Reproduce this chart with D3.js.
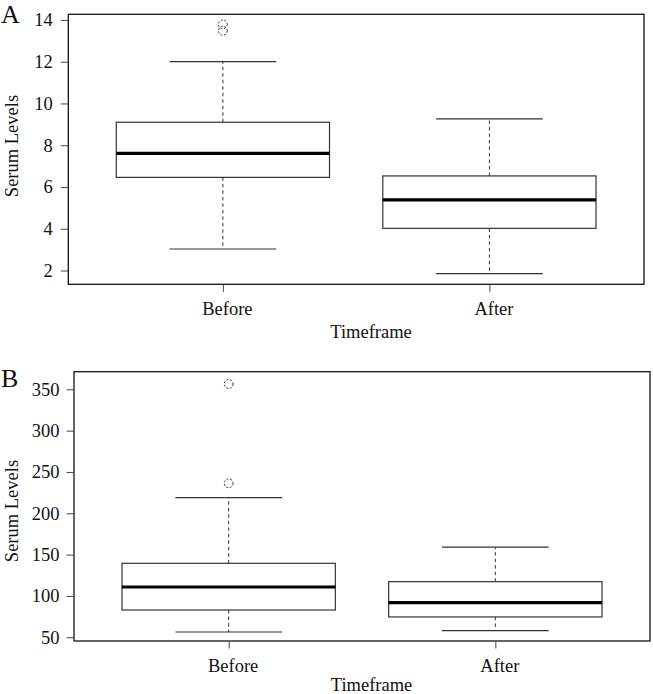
<!DOCTYPE html>
<html><head><meta charset="utf-8">
<script src="https://cdn.jsdelivr.net/npm/d3@7"></script>
<style>body{margin:0;background:#fff}svg{display:block}text{font-family:"Liberation Serif","Times New Roman",serif;fill:#111}</style>
</head><body>
<script>
const categories = ["Before", "After"];
// Panel A
const aLowWhisker = [3.03, 1.85];
const aQ1 = [6.46, 4.02];
const aMedian = [7.61, 5.38];
const aQ3 = [9.10, 6.53];
const aHighWhisker = [12.0, 9.26];
const aOutliers = [[13.79, 13.48], []];
const aTicks = [2, 4, 6, 8, 10, 12, 14];
// Panel B
const bLowWhisker = [56.4, 58];
const bQ1 = [83, 74.6];
const bMedian = [110.8, 92];
const bQ3 = [139.5, 117.3];
const bHighWhisker = [219, 159];
const bOutliers = [[356.4, 236.3], []];
const bTicks = [50, 100, 150, 200, 250, 300, 350];

const svg = d3.select("body").append("svg").attr("width", 653).attr("height", 694);
svg.append("rect").attr("width", 653).attr("height", 694).attr("fill", "#fff");

function panel(o) {
  const g = svg.append("g");
  const x = d3.scaleLinear().domain([0.42, 2.58]).range([o.left, o.right]);
  const y = d3.scaleLinear().domain(o.domain).range([o.bottom, o.top]);
  const fs = 18.5;
  const data = categories.map((c, i) => ({c, i, pos: i + 1,
    lo: o.lo[i], q1: o.q1[i], med: o.med[i], q3: o.q3[i], hi: o.hi[i], out: o.out[i]}));
  const bw = x(1.4) - x(1);
  const cw = x(1.2) - x(1);
  const b = g.selectAll("g.box").data(data).enter().append("g");
  // whiskers
  b.append("line").attr("x1", d => x(d.pos)).attr("x2", d => x(d.pos))
    .attr("y1", d => y(d.q3)).attr("y2", d => y(d.hi))
    .attr("stroke", "#333").attr("stroke-width", 1).attr("stroke-dasharray", "3.5,3");
  b.append("line").attr("x1", d => x(d.pos)).attr("x2", d => x(d.pos))
    .attr("y1", d => y(d.q1)).attr("y2", d => y(d.lo))
    .attr("stroke", "#333").attr("stroke-width", 1).attr("stroke-dasharray", "3.5,3");
  // caps
  ["hi", "lo"].forEach(k => {
    b.append("line").attr("x1", d => x(d.pos) - cw).attr("x2", d => x(d.pos) + cw)
      .attr("y1", d => y(d[k])).attr("y2", d => y(d[k]))
      .attr("stroke", "#333").attr("stroke-width", 1.2);
  });
  // box
  b.append("rect").attr("x", d => x(d.pos) - bw).attr("width", 2 * bw)
    .attr("y", d => y(d.q3)).attr("height", d => y(d.q1) - y(d.q3))
    .attr("fill", "#fff").attr("stroke", "#333").attr("stroke-width", 1.2);
  // median
  b.append("line").attr("x1", d => x(d.pos) - bw).attr("x2", d => x(d.pos) + bw)
    .attr("y1", d => y(d.med)).attr("y2", d => y(d.med))
    .attr("stroke", "#000").attr("stroke-width", 3.2);
  // outliers
  b.selectAll("circle").data(d => d.out.map(v => ({pos: d.pos, v}))).enter().append("circle")
    .attr("cx", d => x(d.pos)).attr("cy", d => y(d.v)).attr("r", 4.4)
    .attr("fill", "none").attr("stroke", "#333").attr("stroke-width", 1).attr("stroke-dasharray", "2,1.6");
  // frame
  g.append("rect").attr("x", o.left).attr("y", o.top)
    .attr("width", o.right - o.left).attr("height", o.bottom - o.top)
    .attr("fill", "none").attr("stroke", "#111").attr("stroke-width", 1.3);
  // y axis
  const ya = g.append("g").attr("transform", `translate(${o.left},0)`)
    .call(d3.axisLeft(y).tickValues(o.ticks).tickSize(7.5).tickPadding(o.ypad).tickSizeOuter(0));
  ya.select(".domain").remove();
  ya.selectAll(".tick line").attr("stroke", "#444");
  ya.selectAll("text").attr("font-size", fs).attr("font-family", '"Liberation Serif",serif').attr("fill", "#111");
  // x axis
  const xa = g.append("g").attr("transform", `translate(0,${o.bottom})`)
    .call(d3.axisBottom(x).tickValues([1, 2]).tickFormat((d, i) => categories[i]).tickSize(7.5).tickPadding(10.5).tickSizeOuter(0));
  xa.select(".domain").remove();
  xa.selectAll(".tick line").attr("stroke", "#444");
  xa.selectAll("text").attr("font-size", fs).attr("font-family", '"Liberation Serif",serif').attr("fill", "#111").attr("dx", 4);
  // titles
  g.append("text").attr("x", o.xtitleX).attr("y", o.xtitleY).attr("text-anchor", "middle")
    .attr("font-size", fs).text("Timeframe");
  g.append("text").attr("transform", `translate(${o.ytitleX},${o.ytitleY}) rotate(-90)`)
    .attr("text-anchor", "middle").attr("font-size", fs).text("Serum Levels");
  g.append("text").attr("x", 1).attr("y", o.letterY).attr("font-size", 26).text(o.letter);
}

panel({left: 68.3, right: 644, top: 14.3, bottom: 284.3, domain: [1.34, 14.27],
  lo: aLowWhisker, q1: aQ1, med: aMedian, q3: aQ3, hi: aHighWhisker, out: aOutliers,
  ticks: aTicks, ypad: 8, xtitleX: 371, xtitleY: 338, ytitleX: 18, ytitleY: 146, letter: "A", letterY: 23});
panel({left: 74, right: 650, top: 371.7, bottom: 641, domain: [45.5, 371.3],
  lo: bLowWhisker, q1: bQ1, med: bMedian, q3: bQ3, hi: bHighWhisker, out: bOutliers,
  ticks: bTicks, ypad: 7, xtitleX: 371.5, xtitleY: 691, ytitleX: 18, ytitleY: 511, letter: "B", letterY: 387});
</script>
</body></html>
